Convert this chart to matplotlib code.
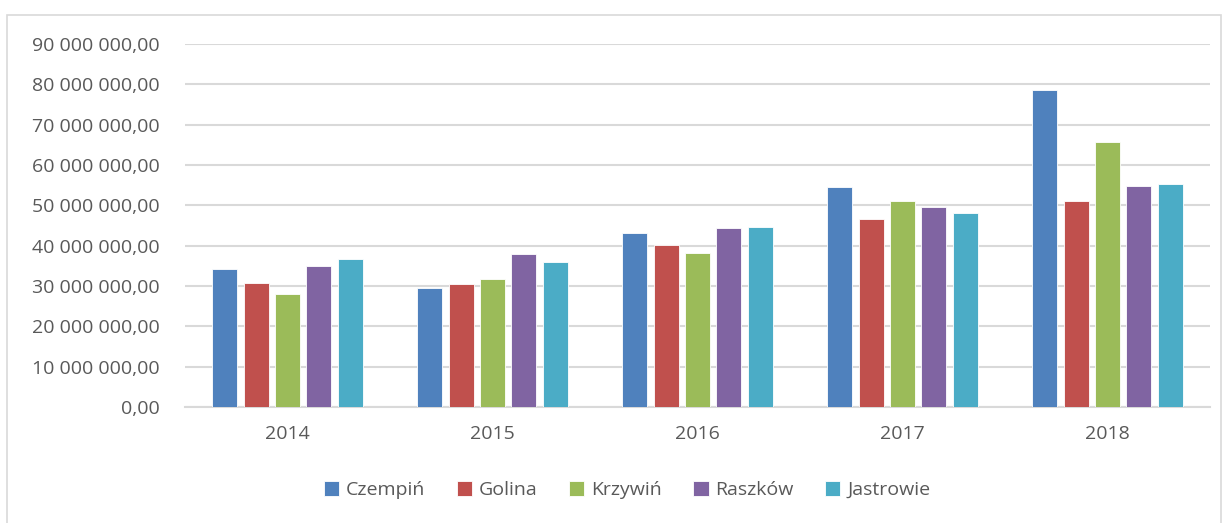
import numpy as np
import matplotlib.pyplot as plt
from matplotlib.patches import Rectangle

years = ["2014", "2015", "2016", "2017", "2018"]
czempin = [34.2e6, 29.45e6, 43.15e6, 54.6e6, 78.7e6]
golina = [30.85e6, 30.5e6, 40.1e6, 46.7e6, 51.1e6]
krzywin = [27.95e6, 31.7e6, 38.2e6, 51.1e6, 65.7e6]
raszkow = [34.9e6, 37.9e6, 44.5e6, 49.6e6, 54.9e6]
jastrowie = [36.7e6, 36.0e6, 44.7e6, 48.1e6, 55.2e6]

series = [("Czempiń", czempin), ("Golina", golina), ("Krzywiń", krzywin),
          ("Raszków", raszkow), ("Jastrowie", jastrowie)]
colors = ["#4F81BD", "#C0504D", "#9BBB59", "#8064A2", "#4BACC6"]

plt.rcParams['font.family'] = ['Open Sans', 'DejaVu Sans']
text_color = "#595959"

fig = plt.figure(figsize=(12.25, 5.23), dpi=100)
W, H = 1225, 523
ax = fig.add_axes([185 / W, 1 - 407 / H, (1210 - 185) / W, (407 - 44) / H])

# chart border
fig.patches.append(Rectangle((7 / W, -0.1), (1221 - 7) / W, 1 - 15 / H + 0.1,
                             transform=fig.transFigure, fill=False,
                             edgecolor="#D9D9D9", linewidth=1.2))

x = np.arange(len(years))
step = 0.153
width = 0.122
for i, (name, vals) in enumerate(series):
    ax.bar(x + (i - 2) * step, vals, width, color=colors[i], label=name,
           edgecolor="white", linewidth=0.6, zorder=3)

ax.set_xlim(-0.5, len(years) - 0.5)
ax.set_ylim(0, 90e6)
ax.set_yticks(np.arange(0, 90e6 + 1, 10e6))

def fmt(v):
    s = f"{v:,.2f}"
    return s.replace(",", " ").replace(".", ",")

ax.set_yticklabels([fmt(v) for v in np.arange(0, 90e6 + 1, 10e6)])
ax.set_xticks(x)
ax.set_xticklabels(years)
ax.tick_params(axis='both', length=0, labelsize=14, colors=text_color)
ax.tick_params(axis='y', pad=18)
ax.tick_params(axis='x', pad=13)
ax.grid(axis='y', color="#D9D9D9", linewidth=1.5, zorder=0)
for s in ["top", "right", "left"]:
    ax.spines[s].set_visible(False)
ax.spines["bottom"].set_color("#D9D9D9")
ax.spines["bottom"].set_linewidth(1.5)

fig.legend(loc="center", bbox_to_anchor=(627 / W, 1 - 490 / H), ncol=5,
           frameon=False, fontsize=14, labelcolor=text_color,
           handlelength=0.8, handleheight=0.8, handletextpad=0.35,
           columnspacing=1.6)

fig.savefig("out.png", dpi=100)
